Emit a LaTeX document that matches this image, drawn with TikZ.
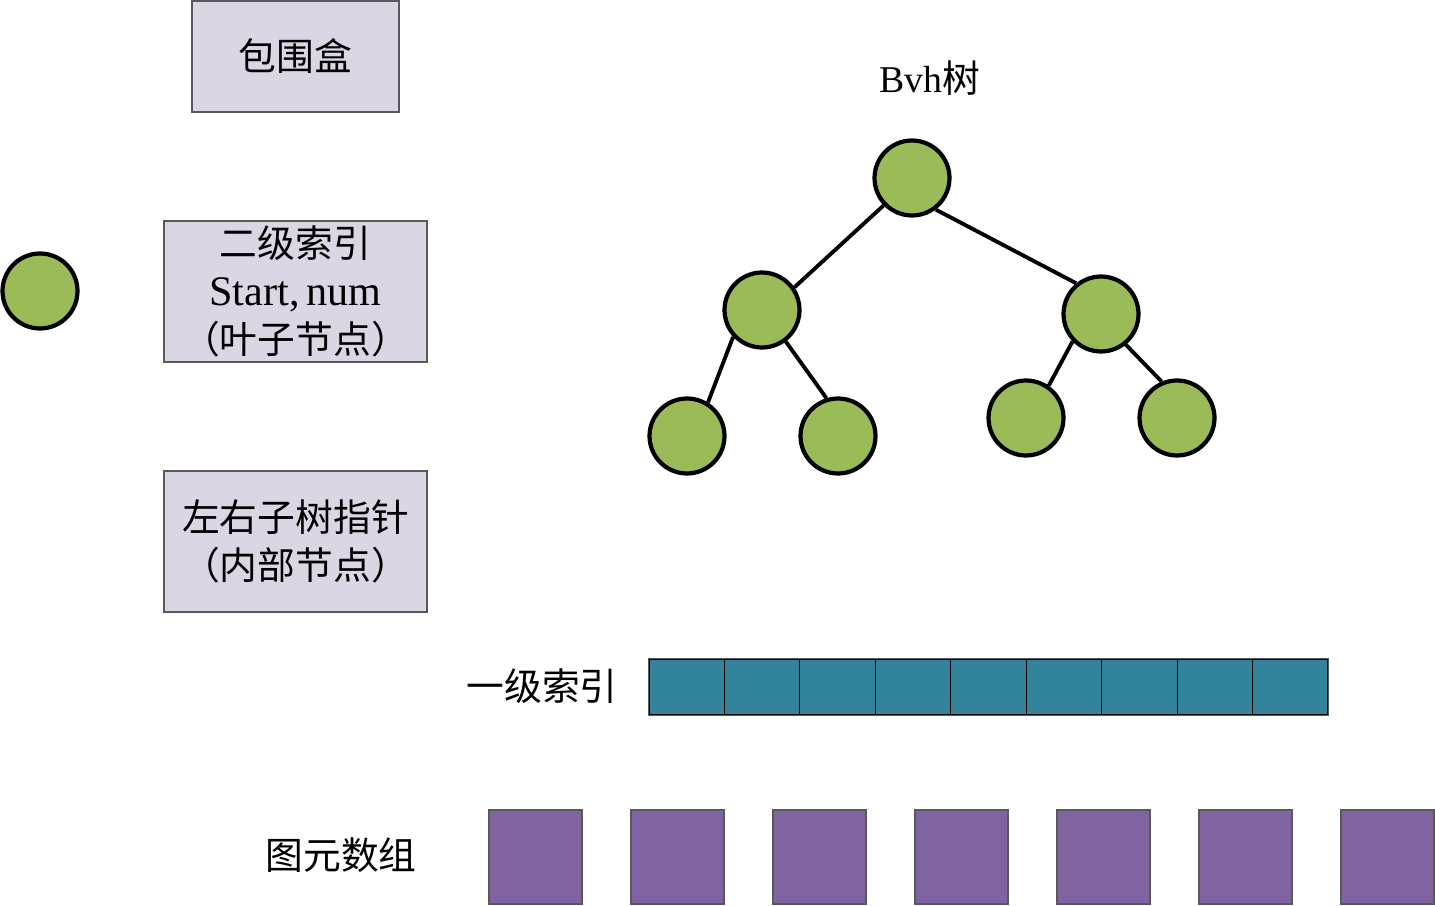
\documentclass[tikz,border=0pt]{standalone}
\usepackage{fontspec}
\setmainfont{Liberation Serif}
\newfontfamily\cjk{Noto Sans CJK SC}
\usetikzlibrary{positioning}
\definecolor{boxfill}{RGB}{220,214,228}
\definecolor{boxline}{RGB}{89,89,89}
\definecolor{leafgreen}{RGB}{155,187,89}
\definecolor{idxteal}{RGB}{49,132,155}
\definecolor{primpurple}{RGB}{128,100,162}

\begin{document}
\begin{tikzpicture}[x=0.02cm, y=-0.02cm,
    every node/.style={font=\fontsize{21.5}{27.5}\selectfont},
    infobox/.style={draw=boxline, line width=0.8pt, fill=boxfill, align=center, inner sep=0pt},
    bvhnode/.style={circle, draw, line width=2.4pt, fill=leafgreen, minimum size=1.5cm, inner sep=0pt},
    cell/.style={draw=black, line width=0.6pt, fill=idxteal, minimum width=1.508cm, minimum height=1.12cm, inner sep=0pt},
    prim/.style={draw=boxline, line width=0.8pt, fill=primpurple, minimum width=1.86cm, minimum height=1.88cm, inner sep=0pt}]
  \useasboundingbox (0,0) rectangle (1435,905);
  % legend boxes
  \node[infobox, minimum width=4.14cm, minimum height=2.22cm] (bbox) at (295.5,56.5) {\cjk 包围盒};
  \node[infobox, minimum width=5.26cm, minimum height=2.82cm] (leafinfo) at (295.5,291.5)
    {\cjk 二级索引\\{\fontsize{24}{27.5}\selectfont Start,\,num}\\\cjk （叶子节点）};
  \node[infobox, minimum width=5.26cm, minimum height=2.82cm] (innerinfo) at (295.5,541.5)
    {\cjk 左右子树指针\\\cjk （内部节点）};
  \node[bvhnode] (legend) at (40,291) {};
  % bvh tree
  \node (title) at (930,78) {Bvh{\cjk 树}};
  \node[bvhnode] (root) at (912,178) {};
  \node[bvhnode] (l) at (762,310) {};
  \node[bvhnode] (r) at (1101,314) {};
  \node[bvhnode] (ll) at (687,436) {};
  \node[bvhnode] (lr) at (838,436) {};
  \node[bvhnode] (rl) at (1026,418) {};
  \node[bvhnode] (rr) at (1177,418) {};
  \draw[line width=2.2pt] (root.224) -- (l.35) (root.307) -- (r.129)
    (l.223) -- (ll.58) (l.307) -- (lr.107) (r.224) -- (rl.55) (r.309) -- (rr.113);
  % first level index
  \node (idxlabel) at (542,686) {\cjk 一级索引};
  \foreach \i in {1,...,9}
    \node[cell] (c\i) at ({649+75.44*(\i-0.5)},687) {};
  \draw[boxline, line width=0.8pt] (c1.north west) rectangle (c9.south east);
  % primitives
  \node (primlabel) at (341,855) {\cjk 图元数组};
  \foreach \i in {0,...,6}
    \node[prim] (p\i) at ({535.5+142*\i},857) {};
\end{tikzpicture}
\end{document}
